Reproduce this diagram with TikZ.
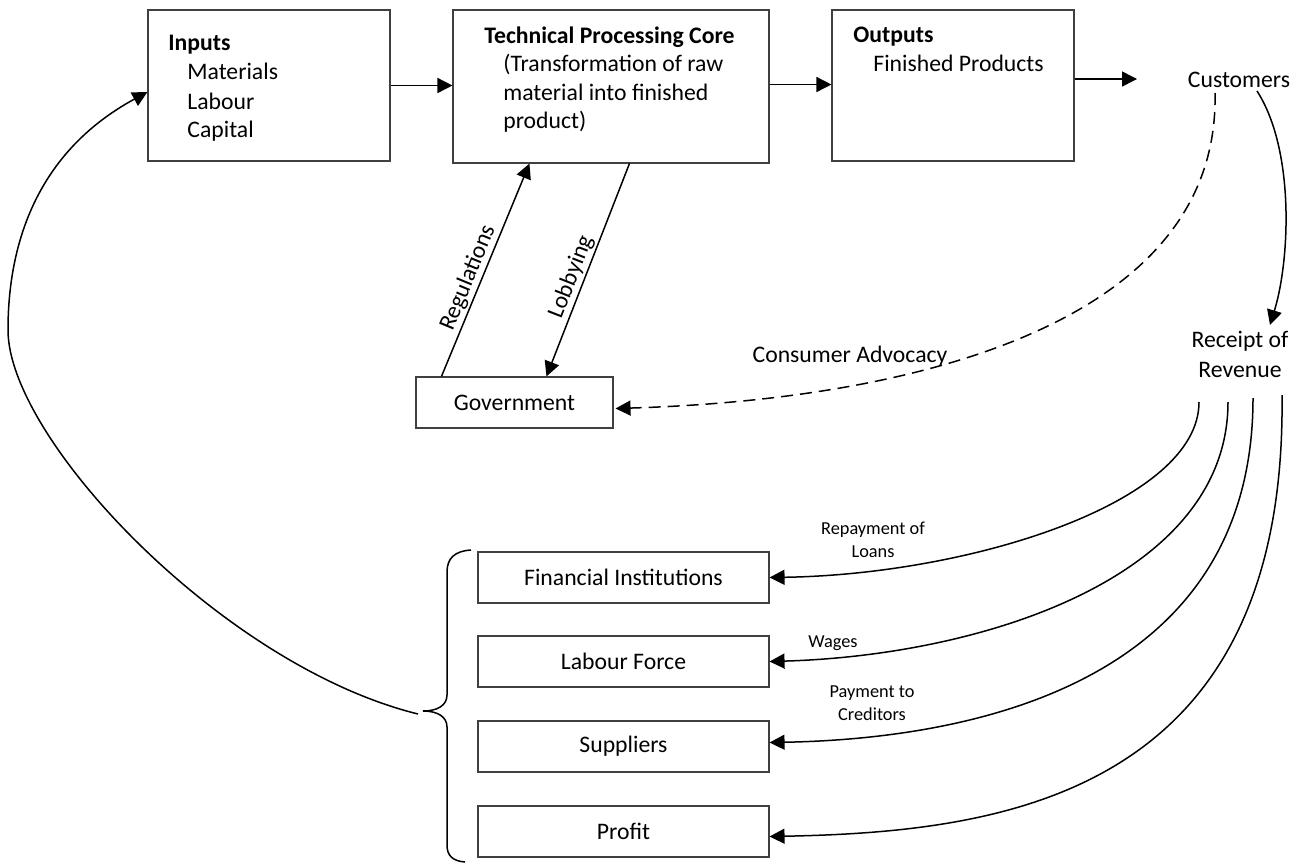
\documentclass[tikz,border=0pt]{standalone}
\usepackage{fontspec}
\setmainfont{Carlito}
\usetikzlibrary{arrows.meta,calc}
\begin{document}
\begin{tikzpicture}[x=0.5pt,y=-0.5pt,
  >={Triangle[length=7.5pt,width=7.5pt]},
  frame/.style={draw=black!75, line width=0.55pt, inner sep=0pt},
  txt/.style={inner sep=0pt, font=\fontsize{11.85}{14.6}\selectfont},
  head/.style={inner sep=0pt, font=\fontsize{11.85}{14.6}\selectfont\bfseries},
  small/.style={inner sep=0pt, align=center, font=\fontsize{9.15}{11.1}\selectfont},
  flow/.style={line width=0.75pt, ->},
  back/.style={line width=0.75pt, <-},
  advocacy/.style={line width=0.75pt, ->, dash pattern=on 6pt off 3.5pt}]
\path[use as bounding box] (0,0) rectangle (1301,863);

% top row: inputs, processing core, outputs
\node[frame, minimum width=121pt, minimum height=75.5pt] (inputs) at (269,85.5) {};
\node[frame, minimum width=158pt, minimum height=76.5pt] (core) at (611,86.5) {};
\node[frame, minimum width=121pt, minimum height=75.5pt] (outputs) at (953,85.5) {};

\node[head, anchor=base west] (inputs-h) at (168,50) {Inputs};
\node[txt, anchor=base west] (inputs-a) at (187,79) {Materials};
\node[txt, anchor=base west] (inputs-b) at (187,109) {Labour};
\node[txt, anchor=base west] (inputs-c) at (187,137) {Capital};

\node[head, anchor=base west] (core-h) at (484,43) {Technical Processing Core};
\node[txt, anchor=base west] (core-a) at (503,71) {(Transformation of raw};
\node[txt, anchor=base west] (core-b) at (503,100) {material into finished};
\node[txt, anchor=base west] (core-c) at (503,128) {product)};

\node[head, anchor=base west] (outputs-h) at (853,42) {Outputs};
\node[txt, anchor=base west] (outputs-a) at (873,71) {Finished Products};

\node[txt, anchor=base] (cust) at (1239,87) {Customers};
% base anchor of a two-line node sits on its last line
\node[txt, align=center, anchor=base] (rev) at (1240,377) {Receipt of\\Revenue};

% government
\node[frame, txt, minimum width=98.5pt, minimum height=25.5pt] (gov) at (514.5,402.5) {Government};

% recipients of revenue
\node[frame, txt, minimum width=145.5pt, minimum height=25.5pt] (fin) at (623.5,577.5) {Financial Institutions};
\node[frame, txt, minimum width=145.5pt, minimum height=25.5pt] (lab) at (623.5,661.5) {Labour Force};
\node[frame, txt, minimum width=145.5pt, minimum height=25.5pt] (sup) at (623.5,746.5) {Suppliers};
\node[frame, txt, minimum width=145.5pt, minimum height=25.5pt] (profit) at (623.5,831.5) {Profit};

% main flow
\draw[flow] (inputs.east) -- (inputs.east -| core.west);
\draw[flow] ($(core.east)+(0,-2)$) -- ($(core.east -| outputs.west)+(0,-2)$);
\coordinate (cust-in) at (1137,79);
\draw[flow] (outputs.east |- cust-in) -- (cust-in);

% government links
\draw[flow] ($(gov.north west)+(26,0)$) -- ($(core.south west)+(77,0)$)
  node[pos=.44, sloped, above, txt, inner sep=1pt] (reg) {Regulations};
\draw[back] ($(gov.north west)+(131,0)$) -- ($(core.south west)+(177,0)$)
  node[pos=.444, sloped, above, txt, inner sep=1pt] (lobby) {Lobbying};

% customers
\draw[flow] ($(cust.base)+(18,4)$) .. controls +(38,59) and +(20,-65) .. ($(rev.base)+(30,-52)$);
\draw[advocacy] ($(cust.base)+(-24,6)$) .. controls +(5,230) and +(300,-9) .. ($(gov.east)+(2,6)$);
\node[txt] (adv) at (850,356) {Consumer Advocacy};

% distribution of revenue
\draw[flow] ($(rev.base)+(-41,25)$) .. controls +(0,101) and +(200,-3) .. (fin.east);
\draw[flow] ($(rev.base)+(-12,25)$) .. controls +(0,175) and +(213,-6) .. (lab.east);
\draw[flow] ($(rev.base)+(13,21)$) .. controls +(0,276) and +(220,-4) .. ($(sup.east)+(0,-4)$);
\draw[flow] ($(rev.base)+(42,18)$) .. controls +(5,402) and +(232,-4.5) .. ($(profit.east)+(0,5)$);

\node[small, anchor=base] (repay) at (873,557) {Repayment of\\Loans};
\node[small, anchor=base] (wages) at (833,647) {Wages};
\node[small, anchor=base] (credit) at (872,720) {Payment to\\Creditors};

% brace grouping the recipients, and the loop back to inputs
\draw[line width=0.75pt] (471,550) .. controls (455,551) and (447,558) .. (447,572)
  -- (447,695) .. controls (447,705) and (438,711) .. (423,711)
  .. controls (438,711) and (447,717) .. (447,727)
  -- (447,845) .. controls (447,856) and (453,861) .. (465,862);
\coordinate (brace-tip) at (423,711);
\coordinate (loop-left) at (8,330);
\draw[flow] ($(brace-tip)+(-5,3)$) .. controls +(-195,-48) and +(0,109) .. (loop-left)
  .. controls +(0,-81) and +(-114,62) .. ($(inputs.west)+(0,6.5)$);
\end{tikzpicture}
\end{document}
